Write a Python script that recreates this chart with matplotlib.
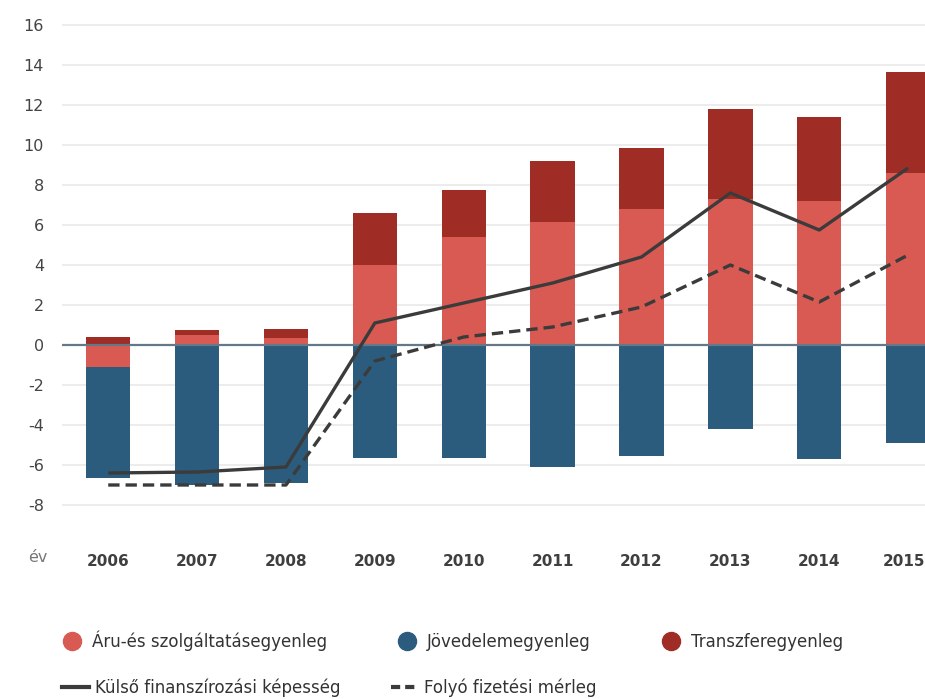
import numpy as np
import matplotlib
matplotlib.use("Agg")
import matplotlib.pyplot as plt
import matplotlib.transforms as mtransforms
from matplotlib.lines import Line2D

years = ["2006", "2007", "2008", "2009", "2010", "2011", "2012", "2013", "2014", "2015"]
goods = [-1.1, 0.5, 0.35, 4.0, 5.4, 6.15, 6.8, 7.3, 7.2, 8.6]
income = [-5.55, -7.0, -6.9, -5.65, -5.65, -6.1, -5.55, -4.2, -5.7, -4.9]
transfer = [0.4, 0.25, 0.45, 2.6, 2.35, 3.05, 3.05, 4.5, 4.2, 5.05]
external_financing = [-6.4, -6.35, -6.1, 1.1, 2.1, 3.1, 4.4, 7.6, 5.75, 8.85]
current_account = [-7.0, -7.0, -7.0, -0.8, 0.4, 0.9, 1.9, 4.0, 2.15, 4.5]
yticks = [-8, -6, -4, -2, 0, 2, 4, 6, 8, 10, 12, 14, 16]

labels = ["Áru-és szolgáltatásegyenleg", "Jövedelemegyenleg", "Transzferegyenleg",
          "Külső finanszírozási képesség", "Folyó fizetési mérleg"]

c_goods = "#d95a52"
c_income = "#2c5c7d"
c_transfer = "#9f2d26"
c_line = "#3b3b3b"

plt.rcParams['font.family'] = ['DejaVu Sans']
narrow = ['DejaVu Sans Condensed', 'DejaVu Sans']

fig = plt.figure(figsize=(9.25, 6.99), dpi=100)
ax = fig.add_axes([62 / 925, 1 - 535 / 699, 863 / 925, 522 / 699])

x = np.arange(len(years))
w = 0.5
g = np.array(goods)
inc = np.array(income)
tr = np.array(transfer)

pos_base = np.zeros(len(x))
neg_base = np.zeros(len(x))

# goods
g_bottom = np.where(g >= 0, pos_base, neg_base)
ax.bar(x, g, w, bottom=g_bottom, color=c_goods, zorder=2)
pos_base = pos_base + np.where(g >= 0, g, 0)
neg_base = neg_base + np.where(g < 0, g, 0)
# transfer
t_bottom = np.where(tr >= 0, pos_base, neg_base)
ax.bar(x, tr, w, bottom=t_bottom, color=c_transfer, zorder=2)
pos_base = pos_base + np.where(tr >= 0, tr, 0)
neg_base = neg_base + np.where(tr < 0, tr, 0)
# income
i_bottom = np.where(inc >= 0, pos_base, neg_base)
ax.bar(x, inc, w, bottom=i_bottom, color=c_income, zorder=2)

ax.axhline(0, color="#647887", lw=1.6, zorder=3)

ax.plot(x, external_financing, color=c_line, lw=2.4, zorder=4, solid_capstyle='butt')
l2, = ax.plot(x, current_account, color=c_line, lw=2.4, zorder=4, dash_capstyle='butt')
l2.set_dashes([3.4, 1.8])

ax.set_xlim(-0.52, 9.19)
ax.set_ylim(-9.5, 16.6)
ax.set_yticks(yticks)
ax.set_yticklabels([str(v) for v in yticks])
ax.set_xticks(x)
ax.set_xticklabels(years, fontweight='bold', family=narrow, fontsize=11)
ax.yaxis.grid(True, color="#e9e9e9", lw=1.2, zorder=0)
ax.set_axisbelow(True)
for s in ax.spines.values():
    s.set_visible(False)
ax.tick_params(axis='y', length=0, pad=13, labelsize=11.5, labelcolor="#444444")
ax.tick_params(axis='x', length=0, pad=14, labelcolor="#3f3f3f")

last = ax.get_xticklabels()[-1]
last.set_transform(last.get_transform() + mtransforms.ScaledTranslation(-4 / 100, 0, fig.dpi_scale_trans))

fig.text(28 / 925, 1 - 558 / 699, "év", fontsize=11.5, color="#777777", va='center', ha='left')

h1 = [Line2D([], [], marker='o', ls='', markersize=13, color=c) for c in (c_goods, c_income, c_transfer)]
leg1 = fig.legend(h1, labels[:3], loc='center left', bbox_to_anchor=(47 / 925, 1 - 641 / 699),
                  ncol=3, frameon=False, fontsize=12, columnspacing=4.2, handletextpad=0.6,
                  handlelength=1.2, labelcolor="#333333")
h2 = [Line2D([], [], color=c_line, lw=3), Line2D([], [], color=c_line, lw=3, ls=(0, (2.2, 1.2)))]
leg2 = fig.legend(h2, labels[3:], loc='center left', bbox_to_anchor=(47 / 925, 1 - 688 / 699),
                  ncol=2, frameon=False, fontsize=12, columnspacing=3.0, handletextpad=0.4,
                  handlelength=1.6, labelcolor="#333333")

fig.savefig("out.png", dpi=100, facecolor="white")
